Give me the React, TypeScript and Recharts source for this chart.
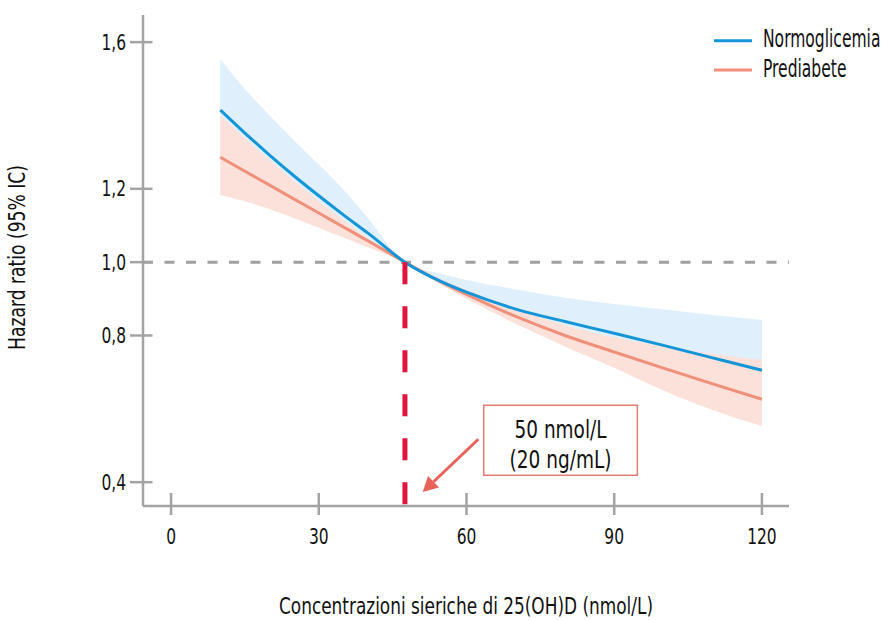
import React from "react";
import {
  ComposedChart,
  Area,
  Line,
  XAxis,
  YAxis,
  ReferenceLine,
  ReferenceArea,
  Legend,
} from "recharts";

const FONT = "'DejaVu Sans Condensed', 'DejaVu Sans', sans-serif";
const AXIS = "#a3a3a3";
const TEXT = "#111111";

// concentrazioni 25(OH)D (nmol/L)
const concentrations = [10, 15, 20, 25, 30, 35, 40, 47.5, 55, 60, 70, 80, 90, 100, 110, 120];

// Normoglicemia
const normoHR = [1.415, 1.352, 1.292, 1.235, 1.181, 1.129, 1.079, 1.0, 0.946, 0.918, 0.872, 0.838, 0.806, 0.773, 0.739, 0.705];
const normoUpper = [1.553, 1.472, 1.4, 1.332, 1.266, 1.198, 1.12, 1.0, 0.968, 0.951, 0.926, 0.903, 0.886, 0.871, 0.856, 0.842];
const normoLower = [1.286, 1.248, 1.21, 1.172, 1.134, 1.096, 1.058, 1.0, 0.945, 0.912, 0.852, 0.8, 0.755, 0.711, 0.668, 0.626];

// Prediabete
const prediabHR = [1.286, 1.248, 1.21, 1.172, 1.134, 1.096, 1.058, 1.0, 0.945, 0.912, 0.852, 0.8, 0.755, 0.711, 0.668, 0.626];
const prediabUpper = [1.401, 1.338, 1.278, 1.221, 1.166, 1.115, 1.064, 1.0, 0.952, 0.925, 0.873, 0.828, 0.795, 0.77, 0.75, 0.733];
const prediabLower = [1.183, 1.166, 1.145, 1.12, 1.094, 1.067, 1.04, 1.0, 0.937, 0.9, 0.832, 0.77, 0.712, 0.65, 0.597, 0.553];

const xTicks = [0, 30, 60, 90, 120];
const yTicks = [0.4, 0.8, 1.0, 1.2, 1.6];

const refConcentration = 47.5;
const arrowFrom = { x: 62.4, y: 0.517 };
const arrowTo = { x: 51.1, y: 0.373 };
const boxRange = { x1: 63.5, x2: 94.7, y1: 0.419, y2: 0.61 };
const boxLines = ["50 nmol/L", "(20 ng/mL)"];
const boxLineWidths = [92, 102];

const series = [
  { name: "Normoglicemia", color: "#1495d8" },
  { name: "Prediabete", color: "#f0907a" },
];

const data = concentrations.map((x, i) => ({
  x,
  normo: normoHR[i],
  normoCI: [normoLower[i], normoUpper[i]],
  prediab: prediabHR[i],
  prediabCI: [prediabLower[i], prediabUpper[i]],
}));

// condensed text: glyphs squeezed to the measured width
function Txt({ x, y, size, len, anchor = "middle", transform, children }: any) {
  return (
    <text
      x={x}
      y={y}
      fontSize={size}
      fill={TEXT}
      fontFamily={FONT}
      textAnchor={anchor}
      textLength={len}
      lengthAdjust="spacingAndGlyphs"
      transform={transform}
    >
      {children}
    </text>
  );
}

function YTick({ x, y, payload }: any) {
  return (
    <g>
      <line x1={x - 13} x2={x + 9.5} y1={y} y2={y} stroke={AXIS} strokeWidth={2.5} />
      <text
        transform={`translate(${x - 17}, ${y + 7.5}) scale(0.82, 1)`}
        textAnchor="end"
        fontSize={21}
        fill={TEXT}
        fontFamily={FONT}
      >
        {Number(payload.value).toFixed(1).replace(".", ",")}
      </text>
    </g>
  );
}

function XTick({ x, y, payload }: any) {
  return (
    <g>
      <line x1={x} x2={x} y1={y - 13} y2={y + 9} stroke={AXIS} strokeWidth={2.5} />
      <text
        transform={`translate(${x}, ${y + 38}) scale(0.82, 1)`}
        textAnchor="middle"
        fontSize={21}
        fill={TEXT}
        fontFamily={FONT}
      >
        {payload.value}
      </text>
    </g>
  );
}

function XTitle({ viewBox }: any) {
  return (
    <Txt x={viewBox.x + viewBox.width / 2} y={614} size={23} len={374}>
      Concentrazioni sieriche di 25(OH)D (nmol/L)
    </Txt>
  );
}

function YTitle({ viewBox }: any) {
  const cy = viewBox.y + viewBox.height / 2 - 3;
  const cx = 25;
  return (
    <Txt x={cx} y={cy} size={23} len={185} transform={`rotate(-90, ${cx}, ${cy})`}>
      Hazard ratio (95% IC)
    </Txt>
  );
}

function BoxLabel({ viewBox }: any) {
  const cx = viewBox.x + viewBox.width / 2;
  return (
    <g>
      {boxLines.map((line, i) => (
        <Txt key={line} x={cx} y={viewBox.y + 33 + i * 30} size={25} len={boxLineWidths[i]}>
          {line}
        </Txt>
      ))}
    </g>
  );
}

function Arrow({ x1, y1, x2, y2 }: any) {
  const ang = Math.atan2(y2 - y1, x2 - x1);
  const len = 15;
  const half = 8;
  const bx = x2 - len * Math.cos(ang);
  const by = y2 - len * Math.sin(ang);
  const px = -Math.sin(ang) * half;
  const py = Math.cos(ang) * half;
  return (
    <g>
      <line x1={x1} y1={y1} x2={bx} y2={by} stroke="#e8625a" strokeWidth={3} />
      <polygon points={`${x2},${y2} ${bx + px},${by + py} ${bx - px},${by - py}`} fill="#e8625a" />
    </g>
  );
}

// legend box starts at x=700; swatches at 714, names at 763
function LegendContent() {
  return (
    <svg width={192} height={64} style={{ display: "block" }}>
      {series.map((s, i) => (
        <g key={s.name}>
          <line x1={14} x2={52} y1={14.7 + i * 29.3} y2={14.7 + i * 29.3} stroke={s.color} strokeWidth={3} />
          <text
            transform={`translate(63, ${20.5 + i * 30.5}) scale(0.72, 1)`}
            fontSize={24}
            fill={TEXT}
            fontFamily={FONT}
          >
            {s.name}
          </text>
        </g>
      ))}
    </svg>
  );
}

export default function App() {
  return (
    <div style={{ position: "absolute", left: 0, top: 0, width: 892, height: 620, background: "#fff" }}>
      <ComposedChart
        width={892}
        height={620}
        data={data}
        margin={{ top: 15, right: 103, left: 0, bottom: 0 }}
      >
        <XAxis
          dataKey="x"
          type="number"
          domain={[-5.7, 125.5]}
          ticks={xTicks}
          allowDataOverflow
          height={114}
          tickSize={0}
          tickMargin={0}
          tickLine={false}
          axisLine={{ stroke: AXIS, strokeWidth: 2.5 }}
          tick={<XTick />}
          label={<XTitle />}
        />
        <YAxis
          type="number"
          domain={[0.335, 1.674]}
          ticks={yTicks}
          allowDataOverflow
          width={143}
          tickSize={0}
          tickMargin={0}
          tickLine={false}
          axisLine={{ stroke: AXIS, strokeWidth: 2.5 }}
          tick={<YTick />}
          label={<YTitle />}
        />
        <Legend
          layout="vertical"
          align="center"
          verticalAlign="middle"
          wrapperStyle={{ top: 26, left: 700, width: 192 }}
          content={<LegendContent />}
        />
        <Area
          dataKey="normoCI"
          type="monotone"
          fill="#dff0fc"
          fillOpacity={1}
          stroke="none"
          legendType="none"
          isAnimationActive={false}
        />
        <Area
          dataKey="prediabCI"
          type="monotone"
          fill="#fce1da"
          fillOpacity={1}
          stroke="none"
          legendType="none"
          isAnimationActive={false}
        />
        <ReferenceLine y={1} stroke="#a0a0a0" strokeWidth={3} strokeDasharray="10 11.5" />
        <Line
          dataKey="prediab"
          name="Prediabete"
          type="monotone"
          stroke="#f0907a"
          strokeWidth={3}
          dot={false}
          isAnimationActive={false}
        />
        <Line
          dataKey="normo"
          name="Normoglicemia"
          type="monotone"
          stroke="#1495d8"
          strokeWidth={3}
          dot={false}
          isAnimationActive={false}
        />
        <ReferenceLine
          segment={[
            { x: refConcentration, y: 1.0 },
            { x: refConcentration, y: 0.335 },
          ]}
          stroke="#e0143c"
          strokeWidth={5}
          strokeDasharray="22 22"
        />
        <ReferenceLine segment={[arrowFrom, arrowTo]} shape={<Arrow />} />
        <ReferenceArea
          x1={boxRange.x1}
          x2={boxRange.x2}
          y1={boxRange.y1}
          y2={boxRange.y2}
          fill="#ffffff"
          fillOpacity={1}
          stroke="#e87a72"
          strokeWidth={1.5}
          label={<BoxLabel />}
        />
      </ComposedChart>
    </div>
  );
}
